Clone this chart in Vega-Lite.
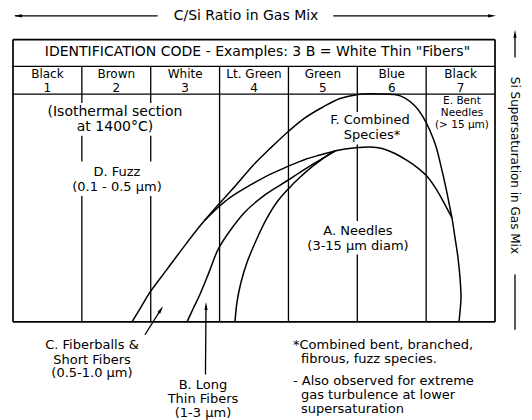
{
  "$schema": "https://vega.github.io/schema/vega-lite/v6.json",
  "width": 532,
  "height": 420,
  "autosize": {"type": "fit", "contains": "padding"},
  "padding": 0,
  "background": "white",
  "config": {"view": {"stroke": null}, "text": {"font": "DejaVu Sans", "fontSize": 13, "color": "black", "baseline": "middle"}},
  "datasets": {
    "box": [
      {"x": 0, "y": 0, "x2": 7, "y2": 0},
      {"x": 0, "y": 10, "x2": 7, "y2": 10},
      {"x": 0, "y": 0, "x2": 0, "y2": 10},
      {"x": 7, "y": 0, "x2": 7, "y2": 10}
    ],
    "segs": [
      {"x": 0, "y": 8.07, "x2": 7, "y2": 8.07},
      {"x": 0, "y": 9.053, "x2": 7, "y2": 9.053},
      {"x": 1, "y": 0, "x2": 1, "y2": 4.456},
      {"x": 1, "y": 5.684, "x2": 1, "y2": 6.596},
      {"x": 1, "y": 7.754, "x2": 1, "y2": 9.053},
      {"x": 2, "y": 0, "x2": 2, "y2": 4.456},
      {"x": 2, "y": 5.684, "x2": 2, "y2": 6.596},
      {"x": 2, "y": 7.754, "x2": 2, "y2": 9.053},
      {"x": 3, "y": 0, "x2": 3, "y2": 9.053},
      {"x": 4, "y": 0, "x2": 4, "y2": 9.053},
      {"x": 6, "y": 0, "x2": 6, "y2": 9.053},
      {"x": 5, "y": 0, "x2": 5, "y2": 2.386},
      {"x": 5, "y": 3.579, "x2": 5, "y2": 6.281},
      {"x": 5, "y": 7.439, "x2": 5, "y2": 9.053},
      {"x": 0.03, "y": 10.842, "x2": 2.1, "y2": 10.842},
      {"x": 4.65, "y": 10.842, "x2": 6.95, "y2": 10.842},
      {"x": 7.29, "y": 10.2, "x2": 7.29, "y2": 9.37},
      {"x": 7.29, "y": 1.68, "x2": 7.29, "y2": -0.281},
      {"x": 1.917, "y": -0.456, "x2": 2.148, "y2": 0.442},
      {"x": 2.795, "y": -1.86, "x2": 2.803, "y2": 0.56}
    ],
    "curves": [
      {"s": "F", "i": 1, "x": 1.728, "y": 0},
      {"s": "F", "i": 2, "x": 1.859, "y": 0.526},
      {"s": "F", "i": 3, "x": 1.990, "y": 1.053},
      {"s": "F", "i": 4, "x": 2.236, "y": 1.860},
      {"s": "F", "i": 5, "x": 2.483, "y": 2.667},
      {"s": "F", "i": 6, "x": 2.730, "y": 3.439},
      {"s": "F", "i": 7, "x": 2.977, "y": 4.140},
      {"s": "F", "i": 8, "x": 3.238, "y": 4.842},
      {"s": "F", "i": 9, "x": 3.485, "y": 5.544},
      {"s": "F", "i": 10, "x": 3.732, "y": 6.140},
      {"s": "F", "i": 11, "x": 3.994, "y": 6.737},
      {"s": "F", "i": 12, "x": 4.240, "y": 7.228},
      {"s": "F", "i": 13, "x": 4.502, "y": 7.614},
      {"s": "F", "i": 14, "x": 4.749, "y": 7.912},
      {"s": "F", "i": 15, "x": 5.010, "y": 8.060},
      {"s": "F", "i": 16, "x": 5.286, "y": 8.077},
      {"s": "F", "i": 17, "x": 5.547, "y": 8.053},
      {"s": "F", "i": 18, "x": 5.693, "y": 7.930},
      {"s": "F", "i": 19, "x": 5.838, "y": 7.649},
      {"s": "F", "i": 20, "x": 5.954, "y": 7.263},
      {"s": "F", "i": 21, "x": 6.056, "y": 6.772},
      {"s": "F", "i": 22, "x": 6.143, "y": 6.211},
      {"s": "F", "i": 23, "x": 6.216, "y": 5.509},
      {"s": "F", "i": 24, "x": 6.288, "y": 4.737},
      {"s": "F", "i": 25, "x": 6.346, "y": 4.035},
      {"s": "F", "i": 26, "x": 6.375, "y": 3.684},
      {"s": "F", "i": 27, "x": 6.419, "y": 2.982},
      {"s": "F", "i": 28, "x": 6.462, "y": 2.281},
      {"s": "F", "i": 29, "x": 6.491, "y": 1.579},
      {"s": "F", "i": 30, "x": 6.506, "y": 0.877},
      {"s": "F", "i": 31, "x": 6.491, "y": 0.351},
      {"s": "F", "i": 32, "x": 6.477, "y": 0},
      {"s": "A", "i": 1, "x": 3.224, "y": 0},
      {"s": "A", "i": 2, "x": 3.253, "y": 0.702},
      {"s": "A", "i": 3, "x": 3.311, "y": 1.404},
      {"s": "A", "i": 4, "x": 3.398, "y": 2.105},
      {"s": "A", "i": 5, "x": 3.529, "y": 2.877},
      {"s": "A", "i": 6, "x": 3.674, "y": 3.614},
      {"s": "A", "i": 7, "x": 3.834, "y": 4.246},
      {"s": "A", "i": 8, "x": 3.994, "y": 4.702},
      {"s": "A", "i": 9, "x": 4.168, "y": 5.123},
      {"s": "A", "i": 10, "x": 4.386, "y": 5.579},
      {"s": "A", "i": 11, "x": 4.676, "y": 6.053},
      {"s": "A", "i": 12, "x": 4.821, "y": 6.123},
      {"s": "A", "i": 13, "x": 5.010, "y": 6.175},
      {"s": "A", "i": 14, "x": 5.184, "y": 6.193},
      {"s": "A", "i": 15, "x": 5.359, "y": 6.140},
      {"s": "A", "i": 16, "x": 5.547, "y": 5.965},
      {"s": "A", "i": 17, "x": 5.722, "y": 5.719},
      {"s": "A", "i": 18, "x": 5.867, "y": 5.474},
      {"s": "A", "i": 19, "x": 6.012, "y": 5.158},
      {"s": "A", "i": 20, "x": 6.128, "y": 4.772},
      {"s": "A", "i": 21, "x": 6.245, "y": 4.281},
      {"s": "A", "i": 22, "x": 6.375, "y": 3.684},
      {"s": "B", "i": 1, "x": 2.527, "y": 0},
      {"s": "B", "i": 2, "x": 2.614, "y": 0.456},
      {"s": "B", "i": 3, "x": 2.716, "y": 0.982},
      {"s": "B", "i": 4, "x": 2.846, "y": 1.754},
      {"s": "B", "i": 5, "x": 2.977, "y": 2.561},
      {"s": "B", "i": 6, "x": 3.151, "y": 3.228},
      {"s": "B", "i": 7, "x": 3.369, "y": 3.895},
      {"s": "B", "i": 8, "x": 3.674, "y": 4.526},
      {"s": "B", "i": 9, "x": 3.994, "y": 5.018},
      {"s": "B", "i": 10, "x": 4.168, "y": 5.298},
      {"s": "B", "i": 11, "x": 4.386, "y": 5.632},
      {"s": "B", "i": 12, "x": 4.676, "y": 6.053},
      {"s": "G", "i": 1, "x": 2.788, "y": 3.604},
      {"s": "G", "i": 2, "x": 2.977, "y": 4.053},
      {"s": "G", "i": 3, "x": 3.151, "y": 4.404},
      {"s": "G", "i": 4, "x": 3.442, "y": 4.842},
      {"s": "G", "i": 5, "x": 3.732, "y": 5.228},
      {"s": "G", "i": 6, "x": 3.994, "y": 5.509},
      {"s": "G", "i": 7, "x": 4.240, "y": 5.754},
      {"s": "G", "i": 8, "x": 4.458, "y": 5.912},
      {"s": "G", "i": 9, "x": 4.676, "y": 6.053}
    ],
    "bigtext": [
      {"x": 3.384, "y": 10.842, "t": "C/Si Ratio in Gas Mix"},
      {"x": 3.55, "y": 9.544, "t": "IDENTIFICATION CODE - Examples:  3 B = White Thin \"Fibers\""},
      {"x": 1.481, "y": 7.439, "t": "(Isothermal section"},
      {"x": 1.481, "y": 6.912, "t": "at 1400°C)"}
    ],
    "htext": [
      {"x": 0.5, "y": 8.789, "t": "Black"},
      {"x": 1.5, "y": 8.789, "t": "Brown"},
      {"x": 2.5, "y": 8.789, "t": "White"},
      {"x": 3.5, "y": 8.789, "t": "Lt. Green"},
      {"x": 4.5, "y": 8.789, "t": "Green"},
      {"x": 5.5, "y": 8.789, "t": "Blue"},
      {"x": 6.5, "y": 8.789, "t": "Black"},
      {"x": 0.5, "y": 8.281, "t": "1"},
      {"x": 1.5, "y": 8.281, "t": "2"},
      {"x": 2.5, "y": 8.281, "t": "3"},
      {"x": 3.5, "y": 8.281, "t": "4"},
      {"x": 4.5, "y": 8.281, "t": "5"},
      {"x": 5.5, "y": 8.281, "t": "6"},
      {"x": 6.5, "y": 8.281, "t": "7"}
    ],
    "ctext": [
      {"x": 1.510, "y": 5.298, "t": "D. Fuzz"},
      {"x": 1.510, "y": 4.772, "t": "(0.1 - 0.5 µm)"},
      {"x": 5.184, "y": 7.158, "t": "F. Combined"},
      {"x": 5.213, "y": 6.632, "t": "Species*"},
      {"x": 5.010, "y": 3.228, "t": "A. Needles"},
      {"x": 5.010, "y": 2.702, "t": "(3-15 µm diam)"},
      {"x": 1.147, "y": -0.807, "t": "C. Fiberballs &"},
      {"x": 1.147, "y": -1.333, "t": "Short Fibers"},
      {"x": 1.147, "y": -1.825, "t": "(0.5-1.0 µm)"},
      {"x": 2.759, "y": -2.246, "t": "B. Long"},
      {"x": 2.759, "y": -2.737, "t": "Thin Fibers"},
      {"x": 2.759, "y": -3.228, "t": "(1-3 µm)"}
    ],
    "etext": [
      {"x": 6.52, "y": 7.825, "t": "E. Bent"},
      {"x": 6.52, "y": 7.404, "t": "Needles"},
      {"x": 6.52, "y": 6.982, "t": "(> 15 µm)"}
    ],
    "ltext": [
      {"x": 4.066, "y": -0.807, "t": "*Combined bent, branched,"},
      {"x": 4.182, "y": -1.298, "t": "fibrous, fuzz species."},
      {"x": 4.066, "y": -2.105, "t": "- Also observed for extreme"},
      {"x": 4.182, "y": -2.596, "t": "gas turbulence at lower"},
      {"x": 4.182, "y": -3.088, "t": "supersaturation"}
    ],
    "vtext": [
      {"x": 7.29, "y": 5.544, "t": "Si Supersaturation in Gas Mix"}
    ],
    "headLeft": [{"x": 0.073, "y": 10.842}],
    "headRight": [{"x": 6.956, "y": 10.842}],
    "headUp": [{"x": 7.29, "y": 10.21}, {"x": 2.803, "y": 0.561}],
    "headC": [{"x": 2.148, "y": 0.442}]
  },
  "encoding": {
    "x": {"field": "x", "type": "quantitative", "scale": {"domain": [-0.1888, 7.537], "nice": false, "zero": false}, "axis": null},
    "y": {"field": "y", "type": "quantitative", "scale": {"domain": [-3.3333, 11.4035], "nice": false, "zero": false}, "axis": null}
  },
  "layer": [
    {
      "data": {"name": "box"},
      "mark": {"type": "rule", "color": "black", "strokeWidth": 1.7},
      "encoding": {"x2": {"field": "x2"}, "y2": {"field": "y2"}}
    },
    {
      "data": {"name": "segs"},
      "mark": {"type": "rule", "color": "black", "strokeWidth": 1.3},
      "encoding": {"x2": {"field": "x2"}, "y2": {"field": "y2"}}
    },
    {
      "data": {"name": "curves"},
      "mark": {"type": "line", "color": "black", "strokeWidth": 1.5, "interpolate": "catmull-rom"},
      "encoding": {"detail": {"field": "s"}, "order": {"field": "i", "type": "quantitative"}}
    },
    {
      "data": {"name": "bigtext"},
      "mark": {"type": "text", "align": "center", "fontSize": 14},
      "encoding": {"text": {"field": "t"}}
    },
    {
      "data": {"name": "htext"},
      "mark": {"type": "text", "align": "center", "fontSize": 12},
      "encoding": {"text": {"field": "t"}}
    },
    {
      "data": {"name": "ctext"},
      "mark": {"type": "text", "align": "center"},
      "encoding": {"text": {"field": "t"}}
    },
    {
      "data": {"name": "etext"},
      "mark": {"type": "text", "align": "center", "fontSize": 10.5},
      "encoding": {"text": {"field": "t"}}
    },
    {
      "data": {"name": "ltext"},
      "mark": {"type": "text", "align": "left"},
      "encoding": {"text": {"field": "t"}}
    },
    {
      "data": {"name": "vtext"},
      "mark": {"type": "text", "align": "center", "angle": 90, "fontSize": 12},
      "encoding": {"text": {"field": "t"}}
    },
    {
      "data": {"name": "headLeft"},
      "mark": {"type": "point", "shape": "M-1,0L1,-0.4L1,0.4Z", "filled": true, "color": "black", "size": 64, "opacity": 1}
    },
    {
      "data": {"name": "headRight"},
      "mark": {"type": "point", "shape": "M1,0L-1,-0.4L-1,0.4Z", "filled": true, "color": "black", "size": 64, "opacity": 1}
    },
    {
      "data": {"name": "headUp"},
      "mark": {"type": "point", "shape": "M0,-1L-0.4,1L0.4,1Z", "filled": true, "color": "black", "size": 64, "opacity": 1}
    },
    {
      "data": {"name": "headC"},
      "mark": {"type": "point", "shape": "M0,-1L-0.4,1L0.4,1Z", "filled": true, "color": "black", "size": 64, "opacity": 1, "angle": 32}
    }
  ]
}
